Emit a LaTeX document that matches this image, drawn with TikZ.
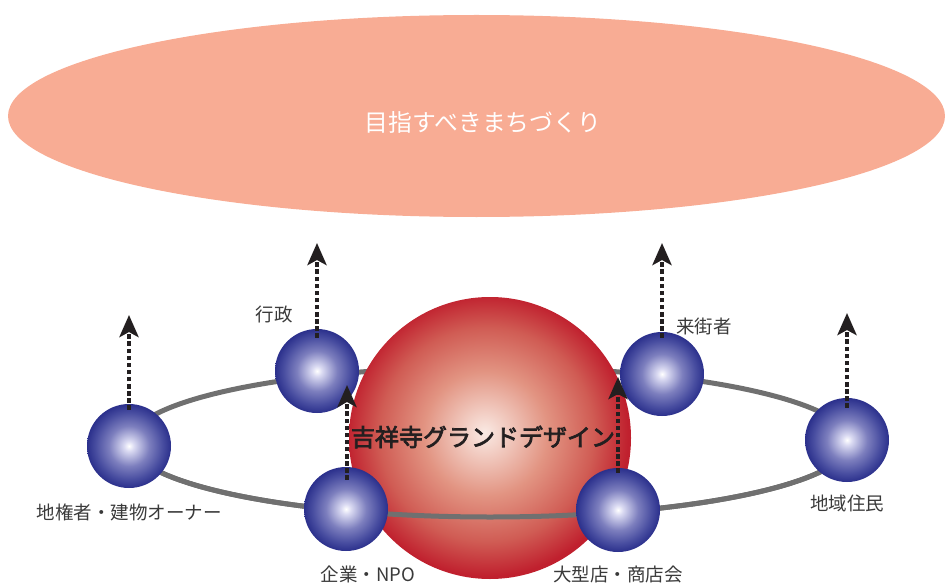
\documentclass[tikz,border=0pt]{standalone}
\usepackage{fontspec}
\newfontfamily\jp{Noto Sans CJK JP}
\newfontfamily\jpm[FakeBold=3]{Noto Sans CJK JP}
\usetikzlibrary{arrows.meta,shapes.geometric}
\definecolor{salmon}{RGB}{248,172,148}
\definecolor{ringgray}{RGB}{112,112,112}
\definecolor{txt}{RGB}{58,58,58}
\definecolor{ink}{RGB}{35,31,32}
\definecolor{bc1}{RGB}{218,218,242}
\definecolor{bc2}{RGB}{125,127,190}
\definecolor{bc3}{RGB}{72,77,160}
\definecolor{bc4}{RGB}{43,48,140}
\definecolor{rc0}{RGB}{250,234,228}
\definecolor{rc1}{RGB}{226,148,130}
\definecolor{rc2}{RGB}{208,92,84}
\definecolor{rc3}{RGB}{192,32,46}
\pgfdeclareradialshading{bsph}{\pgfpoint{0bp}{0bp}}{color(0bp)=(white); color(3bp)=(bc1); color(12bp)=(bc2); color(20bp)=(bc3); color(25bp)=(bc4); color(50bp)=(bc4)}
\pgfdeclareradialshading{rsph}{\pgfpoint{-1bp}{1bp}}{color(0bp)=(rc0); color(11bp)=(rc1); color(19bp)=(rc2); color(25bp)=(rc3); color(50bp)=(rc3)}
\tikzset{
  goal/.style={ellipse, fill=salmon, minimum width=937, minimum height=202, inner sep=0},
  ringline/.style={draw=ringgray, line width=5pt},
  core/.style={circle, minimum size=282, inner sep=0, shading=rsph},
  sph/.style={circle, minimum size=84, inner sep=0, shading=bsph},
  arr/.style={ink, line width=4.5pt, dash pattern=on 4.5pt off 2.6pt, -{Stealth[length=22pt,width=19pt,inset=5pt]}},
  lbl/.style={text=txt, font=\jp\fontsize{18.5}{21}\selectfont, inner sep=0},
}
\begin{document}
\begin{tikzpicture}[x=1pt,y=-1pt]
\useasboundingbox (0,0) rectangle (945,583);
% goal ellipse
\node[goal] (goal) at (476.5,116) {};
\node[text=white, font=\jp\fontsize{23.8}{27}\selectfont, inner sep=0] (goaltext) at (483,122) {目指すべきまちづくり};
% ring (back)
\draw[ringline] (490,442) ellipse [x radius=360, y radius=75];
% core sphere
\node[core] (core) at (490,438) {};
% ring (front, lower half)
\draw[ringline] (130,442) arc [start angle=180, end angle=0, x radius=360, y radius=75];
% small spheres
\node[sph] (chiken) at (129,446) {};
\node[sph] (gyosei) at (317,371) {};
\node[sph] (kigyo) at (346,509) {};
\node[sph] (ogata) at (618,510) {};
\node[sph] (raigai) at (662,374) {};
\node[sph] (chiiki) at (847,440) {};
% arrow tips
\coordinate (tchiken) at (129,315);
\coordinate (tgyosei) at (317,243);
\coordinate (tkigyo) at (347,385);
\coordinate (togata) at (618,377);
\coordinate (traigai) at (662,243);
\coordinate (tchiiki) at (847,313);
\draw[arr] ([yshift=-6pt]chiken.north) -- (tchiken);
\draw[arr] ([yshift=-9pt]gyosei.north) -- (tgyosei);
\draw[arr] ([yshift=-13pt,xshift=1pt]kigyo.north) -- (tkigyo);
\draw[arr] ([yshift=-5pt]ogata.north) -- (togata);
\draw[arr] ([yshift=-6pt]raigai.north) -- (traigai);
\draw[arr] ([yshift=-10pt]chiiki.north) -- (tchiiki);
% labels
\node[lbl] (lgyosei) at (274,314) {行政};
\node[lbl] (lraigai) at (704,326) {来街者};
\node[lbl] (lchiken) at (129,512) {地権者・建物オーナー};
\node[lbl] (lchiiki) at (847,503) {地域住民};
\node[lbl] (lkigyo) at (368,574.5) {企業・NPO};
\node[lbl] (logata) at (618,574.5) {大型店・商店会};
\node[text=ink, font=\jpm\fontsize{24}{27}\selectfont, inner sep=0] (coretext) at (483,437) {吉祥寺グランドデザイン};
\end{tikzpicture}
\end{document}
